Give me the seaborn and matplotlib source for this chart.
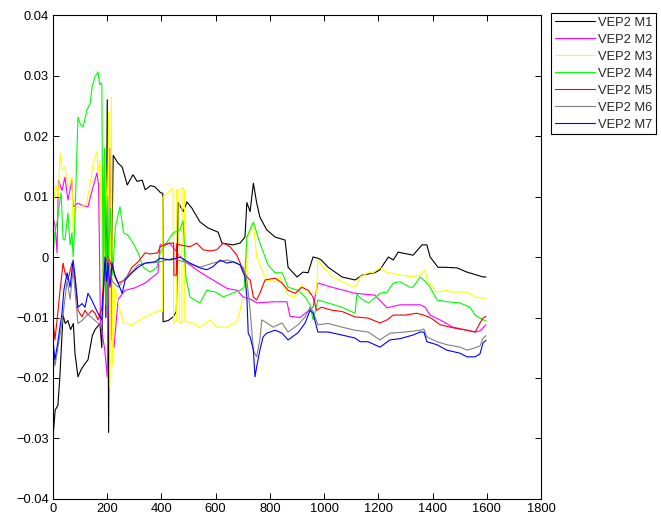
import matplotlib
matplotlib.use("Agg")
import matplotlib.pyplot as plt
import pandas as pd
import seaborn as sns

# Seven channels of a VEP recording, sampled along the trace
series_names = ["VEP2 M1", "VEP2 M2", "VEP2 M3", "VEP2 M4", "VEP2 M5", "VEP2 M6", "VEP2 M7"]
series_colors = ["#000000", "#ff00ff", "#ffff00", "#00ff00", "#ff0000", "#808080", "#0000ff"]

m1_x = [0, 8, 18, 25, 37, 45, 55, 65, 75, 81, 92, 105, 120, 129, 145, 155, 173, 180, 185, 190,
        195, 200, 205, 210, 215, 222, 240, 255, 274, 295, 310, 329, 340, 360, 376, 395, 405, 406,
        425, 443, 455, 462, 480, 494, 512, 542, 572, 609, 623, 664, 690, 708, 715, 727, 739, 751,
        763, 788, 819, 856, 867, 900, 922, 941, 959, 977, 990, 1015, 1066, 1114, 1140, 1187, 1206,
        1237, 1255, 1273, 1328, 1361, 1379, 1391, 1420, 1446, 1490, 1527, 1564, 1586, 1597]
m1_y = [-0.0298, -0.0253, -0.0245, -0.0200, -0.0096, -0.0110, -0.0105, -0.0120, -0.0110, -0.0159,
        -0.0198, -0.0185, -0.0175, -0.0170, -0.0130, -0.0120, -0.0110, -0.0150, -0.0050, 0.0155,
        -0.0100, 0.0260, -0.0290, 0.0100, -0.0050, 0.0168, 0.0155, 0.0149, 0.0119, 0.0136,
        0.0125, 0.0127, 0.0111, 0.0118, 0.0116, 0.0107, 0.0105, -0.0107, -0.0105, -0.0099,
        -0.0090, 0.0090, 0.0075, 0.0091, 0.0081, 0.0058, 0.0048, 0.0041, 0.0023, 0.0020,
        0.0023, 0.0033, 0.0090, 0.0075, 0.0122, 0.0090, 0.0066, 0.0045, 0.0033, 0.0028,
        -0.0017, -0.0033, -0.0025, -0.0026, 0.0000, -0.0002, -0.0005, -0.0017, -0.0033, -0.0038,
        -0.0030, -0.0026, -0.0021, 0.0000, -0.0005, 0.0008, 0.0003, 0.0020, 0.0020, 0.0000,
        -0.0017, -0.0017, -0.0018, -0.0025, -0.0030, -0.0033, -0.0033]

m2_x = [0, 8, 15, 20, 33, 44, 55, 70, 74, 92, 110, 129, 144, 162, 168, 175, 190, 200, 210, 218,
        225, 240, 266, 302, 340, 387, 395, 430, 480, 542, 590, 642, 679, 701, 730, 752, 812, 863,
        874, 911, 930, 959, 977, 1029, 1114, 1187, 1232, 1280, 1354, 1372, 1391, 1428, 1475, 1527,
        1557, 1575, 1597]
m2_y = [0.0066, 0.0050, 0.0007, 0.0127, 0.0110, 0.0132, 0.0094, 0.0127, 0.0083, 0.0089,
        0.0085, 0.0083, 0.0110, 0.0139, 0.0120, -0.0110, -0.0150, -0.0198, 0.0180, -0.0137,
        -0.0150, -0.0070, -0.0055, -0.0051, -0.0043, -0.0026, 0.0020, 0.0023, -0.0005, -0.0025,
        -0.0038, -0.0052, -0.0055, -0.0066, -0.0070, -0.0076, -0.0074, -0.0074, -0.0098, -0.0100,
        -0.0093, -0.0083, -0.0043, -0.0050, -0.0060, -0.0063, -0.0084, -0.0079, -0.0079, -0.0083,
        -0.0096, -0.0104, -0.0116, -0.0121, -0.0124, -0.0122, -0.0112]

m3_x = [0, 10, 20, 26, 33, 44, 55, 70, 74, 81, 100, 125, 137, 148, 162, 166, 173, 185, 192, 200,
        205, 210, 215, 220, 228, 247, 260, 291, 321, 340, 369, 395, 404, 405, 443, 445, 455, 456,
        465, 466, 475, 476, 485, 486, 500, 518, 542, 580, 604, 641, 678, 690, 697, 712, 715, 739,
        751, 775, 789, 819, 837, 867, 890, 918, 941, 959, 972, 977, 990, 1029, 1077, 1114, 1133,
        1162, 1181, 1206, 1232, 1280, 1328, 1354, 1372, 1383, 1416, 1453, 1475, 1527, 1557, 1586,
        1597]
m3_y = [0.0083, 0.0119, 0.0100, 0.0172, 0.0144, 0.0149, 0.0116, 0.0132, 0.0040, 0.0083,
        0.0081, 0.0089, 0.0122, 0.0155, 0.0174, 0.0139, 0.0160, -0.0100, 0.0180, 0.0050,
        0.0240, -0.0215, 0.0264, -0.0180, -0.0050, -0.0088, -0.0109, -0.0112, -0.0104, -0.0099,
        -0.0093, -0.0088, -0.0090, 0.0099, 0.0114, -0.0110, -0.0105, 0.0112, 0.0110, -0.0108,
        -0.0110, 0.0115, 0.0110, -0.0107, -0.0107, -0.0110, -0.0116, -0.0104, -0.0116, -0.0116,
        -0.0107, -0.0088, -0.0071, -0.0070, 0.0030, 0.0056, 0.0000, -0.0026, -0.0038, -0.0041,
        -0.0033, -0.0063, -0.0066, -0.0046, -0.0060, -0.0060, -0.0060, -0.0005, -0.0013, -0.0033,
        -0.0043, -0.0050, -0.0033, -0.0026, -0.0026, -0.0017, -0.0025, -0.0030, -0.0033, -0.0030,
        -0.0021, -0.0041, -0.0058, -0.0055, -0.0058, -0.0058, -0.0066, -0.0068, -0.0068]

m4_x = [0, 7, 18, 26, 30, 37, 44, 55, 63, 70, 74, 80, 88, 92, 100, 111, 125, 137, 144, 155,
        166, 172, 180, 185, 190, 195, 200, 205, 212, 220, 230, 247, 260, 277, 295, 314, 333, 358,
        383, 395, 443, 468, 480, 490, 505, 542, 567, 600, 628, 660, 690, 705, 715, 739, 763, 793,
        819, 845, 867, 904, 930, 948, 959, 977, 1015, 1066, 1114, 1121, 1140, 1165, 1206, 1232,
        1255, 1280, 1317, 1328, 1354, 1372, 1391, 1416, 1453, 1501, 1538, 1557, 1586, 1597]
m4_y = [0.0000, 0.0040, 0.0066, 0.0094, 0.0106, 0.0030, 0.0028, 0.0073, 0.0020, 0.0040,
        0.0000, 0.0050, 0.0172, 0.0231, 0.0220, 0.0215, 0.0243, 0.0254, 0.0281, 0.0298,
        0.0306, 0.0285, 0.0288, -0.0050, 0.0180, -0.0080, 0.0100, 0.0000, 0.0080, -0.0030,
        0.0050, 0.0083, 0.0040, 0.0036, 0.0023, 0.0007, -0.0017, -0.0025, -0.0017, 0.0007,
        0.0040, 0.0045, 0.0060, -0.0033, -0.0066, -0.0076, -0.0055, -0.0058, -0.0066, -0.0060,
        -0.0055, -0.0050, 0.0033, 0.0058, 0.0023, -0.0013, -0.0026, -0.0026, -0.0050, -0.0055,
        -0.0066, -0.0079, -0.0104, -0.0071, -0.0076, -0.0083, -0.0093, -0.0062, -0.0070, -0.0076,
        -0.0060, -0.0058, -0.0043, -0.0041, -0.0050, -0.0050, -0.0033, -0.0040, -0.0050, -0.0071,
        -0.0074, -0.0076, -0.0083, -0.0096, -0.0104, -0.0105]

m5_x = [0, 7, 15, 26, 37, 44, 55, 70, 81, 92, 107, 118, 129, 144, 155, 166, 180, 192, 203, 218,
        240, 266, 291, 314, 340, 358, 387, 395, 432, 445, 446, 455, 456, 468, 505, 530, 553, 580,
        604, 628, 653, 678, 697, 715, 727, 739, 751, 763, 782, 819, 845, 867, 893, 918, 941, 959,
        972, 990, 1029, 1066, 1114, 1162, 1206, 1232, 1255, 1300, 1341, 1360, 1391, 1428, 1475,
        1527, 1557, 1575, 1586, 1597]
m5_y = [-0.0104, -0.0137, -0.0104, -0.0055, -0.0010, -0.0026, -0.0038, -0.0010, -0.0038, -0.0088,
        -0.0099, -0.0088, -0.0096, -0.0088, -0.0093, -0.0104, -0.0085, -0.0010, 0.0000, -0.0017,
        -0.0043, -0.0038, -0.0017, -0.0008, 0.0007, 0.0005, 0.0007, 0.0017, 0.0023, 0.0023,
        -0.0030, -0.0030, 0.0022, 0.0020, 0.0017, 0.0023, 0.0012, 0.0010, 0.0012, 0.0023,
        0.0017, 0.0003, -0.0017, -0.0033, -0.0038, -0.0066, -0.0071, -0.0060, -0.0038, -0.0035,
        -0.0043, -0.0055, -0.0060, -0.0050, -0.0055, -0.0066, -0.0088, -0.0083, -0.0088, -0.0090,
        -0.0099, -0.0101, -0.0109, -0.0104, -0.0096, -0.0096, -0.0093, -0.0095, -0.0100, -0.0112,
        -0.0117, -0.0121, -0.0124, -0.0109, -0.0101, -0.0098]

m6_x = [0, 7, 18, 33, 52, 63, 74, 92, 107, 129, 155, 180, 192, 203, 218, 240, 266, 291, 314, 347,
        395, 443, 494, 542, 590, 642, 679, 701, 715, 727, 739, 751, 763, 770, 789, 812, 845, 867,
        904, 930, 948, 959, 977, 1015, 1066, 1114, 1162, 1206, 1243, 1300, 1354, 1368, 1379, 1416,
        1453, 1501, 1527, 1557, 1575, 1586, 1597]
m6_y = [-0.0150, -0.0180, -0.0150, -0.0110, -0.0040, -0.0070, -0.0020, -0.0110, -0.0105, -0.0095,
        -0.0105, -0.0115, -0.0020, 0.0000, -0.0040, -0.0050, -0.0035, -0.0025, -0.0013, -0.0010,
        -0.0008, -0.0002, -0.0010, -0.0017, -0.0010, -0.0005, -0.0010, -0.0017, -0.0038, -0.0088,
        -0.0154, -0.0165, -0.0137, -0.0104, -0.0109, -0.0116, -0.0109, -0.0124, -0.0112, -0.0099,
        -0.0083, -0.0090, -0.0112, -0.0110, -0.0116, -0.0121, -0.0124, -0.0137, -0.0126, -0.0124,
        -0.0121, -0.0119, -0.0132, -0.0140, -0.0145, -0.0149, -0.0154, -0.0150, -0.0147, -0.0134,
        -0.0130]

m7_x = [0, 7, 18, 33, 40, 52, 63, 74, 81, 92, 107, 118, 129, 144, 155, 166, 180, 192, 197, 203,
        210, 218, 229, 240, 255, 266, 291, 314, 340, 376, 395, 432, 468, 505, 542, 567, 590, 616,
        641, 664, 690, 708, 715, 720, 727, 739, 745, 751, 763, 775, 788, 819, 845, 867, 904, 930,
        948, 959, 977, 1015, 1066, 1114, 1133, 1162, 1206, 1243, 1280, 1328, 1354, 1368, 1379,
        1416, 1453, 1501, 1527, 1557, 1575, 1586, 1597]
m7_y = [-0.0137, -0.0170, -0.0140, -0.0093, -0.0055, -0.0026, -0.0050, -0.0005, -0.0030, -0.0083,
        -0.0077, -0.0083, -0.0060, -0.0072, -0.0083, -0.0093, -0.0104, 0.0000, -0.0040, -0.0010,
        -0.0050, -0.0010, -0.0033, -0.0043, -0.0060, -0.0038, -0.0026, -0.0017, -0.0010, -0.0008,
        -0.0002, -0.0005, 0.0000, -0.0010, -0.0018, -0.0021, -0.0016, -0.0005, -0.0010, -0.0008,
        -0.0013, -0.0033, -0.0066, -0.0126, -0.0132, -0.0154, -0.0198, -0.0182, -0.0154, -0.0132,
        -0.0126, -0.0121, -0.0126, -0.0137, -0.0125, -0.0109, -0.0088, -0.0093, -0.0124, -0.0124,
        -0.0129, -0.0134, -0.0140, -0.0140, -0.0149, -0.0137, -0.0135, -0.0129, -0.0124, -0.0124,
        -0.0140, -0.0145, -0.0154, -0.0159, -0.0165, -0.0165, -0.0160, -0.0142, -0.0138]

x_ticks = [0, 200, 400, 600, 800, 1000, 1200, 1400, 1600, 1800]
y_ticks = [-0.04, -0.03, -0.02, -0.01, 0.0, 0.01, 0.02, 0.03, 0.04]
y_tick_labels = ["\u22120.04", "\u22120.03", "\u22120.02", "\u22120.01", "0",
                 "0.01", "0.02", "0.03", "0.04"]

all_x = [m1_x, m2_x, m3_x, m4_x, m5_x, m6_x, m7_x]
all_y = [m1_y, m2_y, m3_y, m4_y, m5_y, m6_y, m7_y]

frames = []
for name, xs, ys in zip(series_names, all_x, all_y):
    frames.append(pd.DataFrame({"sample": xs, "value": ys, "series": name}))
df = pd.concat(frames, ignore_index=True)

sns.set_style("ticks")
plt.rcParams["font.family"] = ["Liberation Sans", "DejaVu Sans"]

fig = plt.figure(figsize=(6.61, 5.23), dpi=100)
ax = fig.add_axes([0.0802, 0.0459, 0.7383, 0.9254])

sns.lineplot(data=df, x="sample", y="value", hue="series", hue_order=series_names,
             palette=series_colors, estimator=None, sort=False, linewidth=0.8, ax=ax)

ax.set_xlim(0, 1800)
ax.set_ylim(-0.04, 0.04)
ax.set_xticks(x_ticks)
ax.set_xticklabels([str(t) for t in x_ticks])
ax.set_yticks(y_ticks)
ax.set_yticklabels(y_tick_labels)
ax.set_xlabel("")
ax.set_ylabel("")
ax.tick_params(direction="in", top=True, right=True, length=4, width=0.7,
               labelsize=9.3, colors="black", pad=3)
for side in ["top", "right", "bottom", "left"]:
    ax.spines[side].set_visible(True)
    ax.spines[side].set_linewidth(0.8)
    ax.spines[side].set_color("black")

handles, labels = ax.get_legend_handles_labels()
ax.legend(handles, labels, loc="upper left",
          bbox_to_anchor=(551 / 661, 1 - 13 / 523), bbox_transform=fig.transFigure,
          frameon=True, fancybox=False, framealpha=1, edgecolor="black",
          fontsize=9.3, handlelength=3.1, handletextpad=0.25, labelspacing=0.38,
          borderpad=0.3, borderaxespad=0)
ax.get_legend().get_frame().set_linewidth(0.8)

fig.savefig("out.png", dpi=100)
